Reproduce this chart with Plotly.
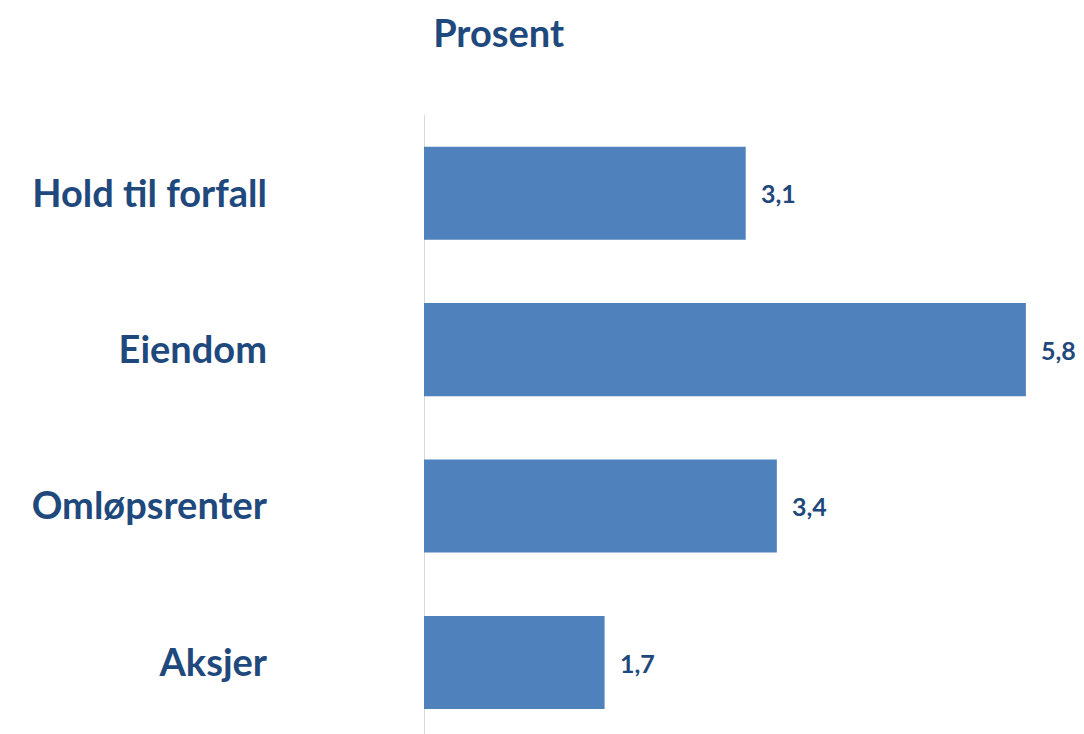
import plotly.graph_objects as go

# data (bottom to top)
categories = ['Aksjer', 'Omløpsrenter', 'Eiendom', 'Hold til forfall']
values = [1.74, 3.4, 5.8, 3.1]
value_labels = [f'{v:.1f}'.replace('.', ',') for v in values]

TEXT_COLOR = '#1F497D'
BAR_COLOR = '#4F81BD'
FONT = 'Lato'

fig = go.Figure()
fig.add_trace(go.Bar(
    x=values,
    y=categories,
    orientation='h',
    marker=dict(color=BAR_COLOR, line=dict(width=0)),
    width=0.595,
    hoverinfo='skip',
))

# value labels just outside the bar ends
for cat, val, lab in zip(categories, values, value_labels):
    fig.add_annotation(
        x=val, y=cat, text=f'<b>{lab}</b>', showarrow=False,
        xanchor='left', xshift=13,
        font=dict(family=FONT, size=25, color=TEXT_COLOR),
    )

# page has an 8px body margin, so the figure is 8px smaller than the window
fig.update_layout(
    width=1076, height=726,
    margin=dict(l=416, r=0, t=107, b=0),
    paper_bgcolor='white', plot_bgcolor='white',
    showlegend=False,
    title=dict(text='<b>Prosent</b>', x=0.456, xanchor='center', y=0.983, yanchor='top',
               font=dict(family=FONT, size=38, color=TEXT_COLOR)),
    xaxis=dict(range=[0, 6.36], visible=False, fixedrange=True),
    yaxis=dict(
        range=[-0.457, 3.5],
        showgrid=False, zeroline=False,
        showline=False, ticks='',
        tickfont=dict(family=FONT, size=38, color=TEXT_COLOR),
        tickprefix='<b>', ticksuffix='</b>',
        ticklabelstandoff=156,
        fixedrange=True,
    ),
)

# thin vertical axis line at zero
fig.add_shape(type='line', xref='x', yref='paper', x0=0, x1=0, y0=0, y1=1,
              line=dict(color='#D9D9D9', width=2), layer='below')

fig.write_html('out.html')
